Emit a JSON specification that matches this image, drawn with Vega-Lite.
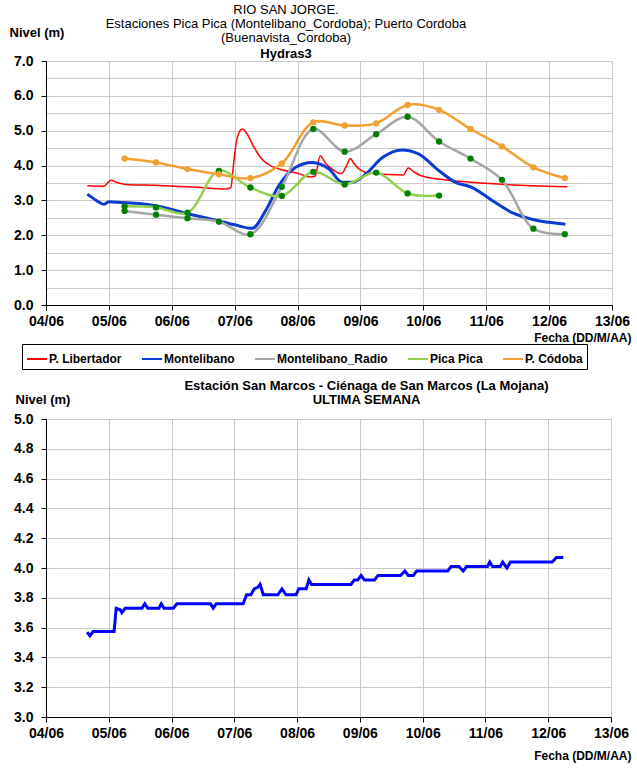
{
  "$schema": "https://vega.github.io/schema/vega-lite/v6.json",
  "background": "white",
  "padding": {"left": 8, "top": 3, "right": 4, "bottom": 2},
  "spacing": 35,
  "config": {
    "font": "Liberation Sans",
    "view": {"stroke": "#A0A0A0"},
    "axis": {
      "labelFont": "Liberation Sans", "labelFontWeight": "bold", "labelFontSize": 14, "labelColor": "black",
      "domainColor": "black", "tickColor": "black", "tickSize": 5, "gridColor": "#C8C8C8", "gridWidth": 1,
      "titleFont": "Liberation Sans", "titleFontWeight": "bold", "titleFontSize": 13, "titleColor": "black"
    },
    "title": {"font": "Liberation Sans", "fontSize": 13, "color": "black", "subtitleFont": "Liberation Sans", "subtitleFontSize": 13, "subtitleFontWeight": "bold", "subtitleColor": "black", "subtitlePadding": 0, "lineHeight": 14, "subtitleLineHeight": 14}
  },
  "datasets": {
    "top": [
      {"s": "P. Libertador", "t": "2023-06-04T15:46Z", "v": 3.42},
      {"s": "P. Libertador", "t": "2023-06-04T22:05Z", "v": 3.41},
      {"s": "P. Libertador", "t": "2023-06-04T23:31Z", "v": 3.50},
      {"s": "P. Libertador", "t": "2023-06-05T00:43Z", "v": 3.58},
      {"s": "P. Libertador", "t": "2023-06-05T02:53Z", "v": 3.52},
      {"s": "P. Libertador", "t": "2023-06-05T06:29Z", "v": 3.46},
      {"s": "P. Libertador", "t": "2023-06-05T19:12Z", "v": 3.43},
      {"s": "P. Libertador", "t": "2023-06-06T09:36Z", "v": 3.38},
      {"s": "P. Libertador", "t": "2023-06-06T20:38Z", "v": 3.33},
      {"s": "P. Libertador", "t": "2023-06-06T22:34Z", "v": 3.37},
      {"s": "P. Libertador", "t": "2023-06-06T23:31Z", "v": 4.0},
      {"s": "P. Libertador", "t": "2023-06-07T00:29Z", "v": 4.6},
      {"s": "P. Libertador", "t": "2023-06-07T01:41Z", "v": 4.95},
      {"s": "P. Libertador", "t": "2023-06-07T02:53Z", "v": 5.05},
      {"s": "P. Libertador", "t": "2023-06-07T04:48Z", "v": 4.90},
      {"s": "P. Libertador", "t": "2023-06-07T07:12Z", "v": 4.55},
      {"s": "P. Libertador", "t": "2023-06-07T10:48Z", "v": 4.15},
      {"s": "P. Libertador", "t": "2023-06-07T14:24Z", "v": 3.97},
      {"s": "P. Libertador", "t": "2023-06-07T18:00Z", "v": 3.88},
      {"s": "P. Libertador", "t": "2023-06-08T00:00Z", "v": 3.78},
      {"s": "P. Libertador", "t": "2023-06-08T04:48Z", "v": 3.67},
      {"s": "P. Libertador", "t": "2023-06-08T06:43Z", "v": 3.70},
      {"s": "P. Libertador", "t": "2023-06-08T08:38Z", "v": 4.28},
      {"s": "P. Libertador", "t": "2023-06-08T10:48Z", "v": 4.05},
      {"s": "P. Libertador", "t": "2023-06-08T13:12Z", "v": 3.90},
      {"s": "P. Libertador", "t": "2023-06-08T16:48Z", "v": 3.77},
      {"s": "P. Libertador", "t": "2023-06-08T18:43Z", "v": 4.00},
      {"s": "P. Libertador", "t": "2023-06-08T20:10Z", "v": 4.20},
      {"s": "P. Libertador", "t": "2023-06-08T21:36Z", "v": 4.05},
      {"s": "P. Libertador", "t": "2023-06-08T23:31Z", "v": 3.90},
      {"s": "P. Libertador", "t": "2023-06-09T04:34Z", "v": 3.77},
      {"s": "P. Libertador", "t": "2023-06-09T16:19Z", "v": 3.73},
      {"s": "P. Libertador", "t": "2023-06-09T18:14Z", "v": 3.93},
      {"s": "P. Libertador", "t": "2023-06-09T20:24Z", "v": 3.82},
      {"s": "P. Libertador", "t": "2023-06-09T23:31Z", "v": 3.70},
      {"s": "P. Libertador", "t": "2023-06-10T09:50Z", "v": 3.58},
      {"s": "P. Libertador", "t": "2023-06-10T23:46Z", "v": 3.49},
      {"s": "P. Libertador", "t": "2023-06-11T17:31Z", "v": 3.42},
      {"s": "P. Libertador", "t": "2023-06-12T06:58Z", "v": 3.39},
      {"s": "Montelibano", "t": "2023-06-04T15:46Z", "v": 3.18},
      {"s": "Montelibano", "t": "2023-06-04T19:12Z", "v": 3.00},
      {"s": "Montelibano", "t": "2023-06-04T22:05Z", "v": 2.89},
      {"s": "Montelibano", "t": "2023-06-05T00:00Z", "v": 2.96},
      {"s": "Montelibano", "t": "2023-06-05T04:48Z", "v": 2.94},
      {"s": "Montelibano", "t": "2023-06-05T11:31Z", "v": 2.91},
      {"s": "Montelibano", "t": "2023-06-05T17:46Z", "v": 2.85},
      {"s": "Montelibano", "t": "2023-06-06T06:29Z", "v": 2.61},
      {"s": "Montelibano", "t": "2023-06-06T18:00Z", "v": 2.41},
      {"s": "Montelibano", "t": "2023-06-07T00:00Z", "v": 2.30},
      {"s": "Montelibano", "t": "2023-06-07T06:43Z", "v": 2.20},
      {"s": "Montelibano", "t": "2023-06-07T11:46Z", "v": 2.70},
      {"s": "Montelibano", "t": "2023-06-07T16:48Z", "v": 3.42},
      {"s": "Montelibano", "t": "2023-06-07T23:17Z", "v": 3.95},
      {"s": "Montelibano", "t": "2023-06-08T05:31Z", "v": 4.09},
      {"s": "Montelibano", "t": "2023-06-08T12:00Z", "v": 3.90},
      {"s": "Montelibano", "t": "2023-06-08T17:02Z", "v": 3.52},
      {"s": "Montelibano", "t": "2023-06-08T20:53Z", "v": 3.52},
      {"s": "Montelibano", "t": "2023-06-09T01:55Z", "v": 3.75},
      {"s": "Montelibano", "t": "2023-06-09T08:24Z", "v": 4.23},
      {"s": "Montelibano", "t": "2023-06-09T15:50Z", "v": 4.45},
      {"s": "Montelibano", "t": "2023-06-09T22:19Z", "v": 4.33},
      {"s": "Montelibano", "t": "2023-06-10T06:00Z", "v": 3.85},
      {"s": "Montelibano", "t": "2023-06-10T12:14Z", "v": 3.52},
      {"s": "Montelibano", "t": "2023-06-10T18:43Z", "v": 3.37},
      {"s": "Montelibano", "t": "2023-06-11T02:24Z", "v": 2.99},
      {"s": "Montelibano", "t": "2023-06-11T09:50Z", "v": 2.65},
      {"s": "Montelibano", "t": "2023-06-11T17:31Z", "v": 2.46},
      {"s": "Montelibano", "t": "2023-06-12T06:14Z", "v": 2.32},
      {"s": "Montelibano_Radio", "t": "2023-06-05T06:00Z", "v": 2.70},
      {"s": "Montelibano_Radio", "t": "2023-06-05T18:00Z", "v": 2.59},
      {"s": "Montelibano_Radio", "t": "2023-06-06T06:00Z", "v": 2.49},
      {"s": "Montelibano_Radio", "t": "2023-06-06T18:00Z", "v": 2.39},
      {"s": "Montelibano_Radio", "t": "2023-06-07T06:00Z", "v": 2.03},
      {"s": "Montelibano_Radio", "t": "2023-06-07T18:00Z", "v": 3.39},
      {"s": "Montelibano_Radio", "t": "2023-06-08T06:00Z", "v": 5.05},
      {"s": "Montelibano_Radio", "t": "2023-06-08T18:00Z", "v": 4.40},
      {"s": "Montelibano_Radio", "t": "2023-06-09T06:00Z", "v": 4.90},
      {"s": "Montelibano_Radio", "t": "2023-06-09T18:00Z", "v": 5.40},
      {"s": "Montelibano_Radio", "t": "2023-06-10T06:00Z", "v": 4.69},
      {"s": "Montelibano_Radio", "t": "2023-06-10T18:00Z", "v": 4.20},
      {"s": "Montelibano_Radio", "t": "2023-06-11T06:00Z", "v": 3.59},
      {"s": "Montelibano_Radio", "t": "2023-06-11T18:00Z", "v": 2.19},
      {"s": "Montelibano_Radio", "t": "2023-06-12T06:00Z", "v": 2.03},
      {"s": "Pica Pica", "t": "2023-06-05T06:00Z", "v": 2.83},
      {"s": "Pica Pica", "t": "2023-06-05T18:00Z", "v": 2.80},
      {"s": "Pica Pica", "t": "2023-06-06T06:00Z", "v": 2.65},
      {"s": "Pica Pica", "t": "2023-06-06T18:00Z", "v": 3.85},
      {"s": "Pica Pica", "t": "2023-06-07T06:00Z", "v": 3.37},
      {"s": "Pica Pica", "t": "2023-06-07T18:00Z", "v": 3.13},
      {"s": "Pica Pica", "t": "2023-06-08T06:00Z", "v": 3.82},
      {"s": "Pica Pica", "t": "2023-06-08T18:00Z", "v": 3.46},
      {"s": "Pica Pica", "t": "2023-06-09T06:00Z", "v": 3.80},
      {"s": "Pica Pica", "t": "2023-06-09T18:00Z", "v": 3.20},
      {"s": "Pica Pica", "t": "2023-06-10T06:00Z", "v": 3.14},
      {"s": "P. Códoba", "t": "2023-06-05T06:00Z", "v": 4.20},
      {"s": "P. Códoba", "t": "2023-06-05T18:00Z", "v": 4.09},
      {"s": "P. Códoba", "t": "2023-06-06T06:00Z", "v": 3.90},
      {"s": "P. Códoba", "t": "2023-06-06T18:00Z", "v": 3.75},
      {"s": "P. Códoba", "t": "2023-06-07T06:00Z", "v": 3.64},
      {"s": "P. Códoba", "t": "2023-06-07T18:00Z", "v": 4.06},
      {"s": "P. Códoba", "t": "2023-06-08T06:00Z", "v": 5.24},
      {"s": "P. Códoba", "t": "2023-06-08T18:00Z", "v": 5.15},
      {"s": "P. Códoba", "t": "2023-06-09T06:00Z", "v": 5.21},
      {"s": "P. Códoba", "t": "2023-06-09T18:00Z", "v": 5.74},
      {"s": "P. Códoba", "t": "2023-06-10T06:00Z", "v": 5.60},
      {"s": "P. Códoba", "t": "2023-06-10T18:00Z", "v": 5.05},
      {"s": "P. Códoba", "t": "2023-06-11T06:00Z", "v": 4.55},
      {"s": "P. Códoba", "t": "2023-06-11T18:00Z", "v": 3.95},
      {"s": "P. Códoba", "t": "2023-06-12T06:00Z", "v": 3.64}
    ],
    "bot": [
      {"t": "2023-06-04T15:43Z", "v": 3.57},
      {"t": "2023-06-04T16:47Z", "v": 3.545},
      {"t": "2023-06-04T18:03Z", "v": 3.573},
      {"t": "2023-06-05T02:02Z", "v": 3.573},
      {"t": "2023-06-05T02:50Z", "v": 3.73},
      {"t": "2023-06-05T04:22Z", "v": 3.72},
      {"t": "2023-06-05T04:59Z", "v": 3.70},
      {"t": "2023-06-05T06:17Z", "v": 3.73},
      {"t": "2023-06-05T12:43Z", "v": 3.73},
      {"t": "2023-06-05T13:45Z", "v": 3.76},
      {"t": "2023-06-05T14:56Z", "v": 3.73},
      {"t": "2023-06-05T19:11Z", "v": 3.73},
      {"t": "2023-06-05T20:04Z", "v": 3.76},
      {"t": "2023-06-05T21:06Z", "v": 3.73},
      {"t": "2023-06-06T00:42Z", "v": 3.73},
      {"t": "2023-06-06T02:01Z", "v": 3.76},
      {"t": "2023-06-06T14:53Z", "v": 3.76},
      {"t": "2023-06-06T15:55Z", "v": 3.73},
      {"t": "2023-06-06T17:05Z", "v": 3.76},
      {"t": "2023-06-07T03:22Z", "v": 3.76},
      {"t": "2023-06-07T04:41Z", "v": 3.82},
      {"t": "2023-06-07T06:20Z", "v": 3.82},
      {"t": "2023-06-07T07:36Z", "v": 3.86},
      {"t": "2023-06-07T08:56Z", "v": 3.87},
      {"t": "2023-06-07T09:49Z", "v": 3.89},
      {"t": "2023-06-07T11:05Z", "v": 3.82},
      {"t": "2023-06-07T16:39Z", "v": 3.82},
      {"t": "2023-06-07T18:12Z", "v": 3.86},
      {"t": "2023-06-07T19:45Z", "v": 3.82},
      {"t": "2023-06-07T23:37Z", "v": 3.82},
      {"t": "2023-06-08T00:37Z", "v": 3.86},
      {"t": "2023-06-08T03:29Z", "v": 3.86},
      {"t": "2023-06-08T04:29Z", "v": 3.92},
      {"t": "2023-06-08T05:31Z", "v": 3.89},
      {"t": "2023-06-08T20:36Z", "v": 3.89},
      {"t": "2023-06-08T21:52Z", "v": 3.92},
      {"t": "2023-06-08T23:11Z", "v": 3.92},
      {"t": "2023-06-09T00:27Z", "v": 3.95},
      {"t": "2023-06-09T01:44Z", "v": 3.92},
      {"t": "2023-06-09T05:36Z", "v": 3.92},
      {"t": "2023-06-09T06:55Z", "v": 3.95},
      {"t": "2023-06-09T15:32Z", "v": 3.95},
      {"t": "2023-06-09T17:12Z", "v": 3.98},
      {"t": "2023-06-09T18:30Z", "v": 3.95},
      {"t": "2023-06-09T20:27Z", "v": 3.95},
      {"t": "2023-06-09T21:43Z", "v": 3.98},
      {"t": "2023-06-10T09:35Z", "v": 3.98},
      {"t": "2023-06-10T10:51Z", "v": 4.01},
      {"t": "2023-06-10T13:49Z", "v": 4.01},
      {"t": "2023-06-10T15:30Z", "v": 3.98},
      {"t": "2023-06-10T16:47Z", "v": 4.01},
      {"t": "2023-06-11T00:46Z", "v": 4.01},
      {"t": "2023-06-11T01:39Z", "v": 4.04},
      {"t": "2023-06-11T02:43Z", "v": 4.01},
      {"t": "2023-06-11T05:41Z", "v": 4.01},
      {"t": "2023-06-11T06:35Z", "v": 4.04},
      {"t": "2023-06-11T08:14Z", "v": 4.00},
      {"t": "2023-06-11T09:33Z", "v": 4.04},
      {"t": "2023-06-12T01:30Z", "v": 4.04},
      {"t": "2023-06-12T03:10Z", "v": 4.07},
      {"t": "2023-06-12T05:46Z", "v": 4.07}
    ]
  },
  "vconcat": [
    {
      "width": 566,
      "height": 244,
      "title": {
        "text": ["RIO SAN JORGE.", "Estaciones Pica Pica (Montelibano_Cordoba); Puerto Cordoba", "(Buenavista_Cordoba)"],
        "subtitle": "Hydras3",
        "fontWeight": "normal",
        "subtitleFontWeight": "bold",
        "anchor": "middle",
        "dx": -43,
        "offset": -35
      },
      "data": {"name": "top"},
      "encoding": {
        "x": {
          "field": "t", "type": "temporal",
          "scale": {"type": "utc", "domain": ["2023-06-04T00:00Z", "2023-06-13T00:00Z"], "nice": false},
          "axis": {"labelExpr": "utcFormat(datum.value, '%d/%m')", "tickCount": {"interval": "day", "step": 1}, "labelPadding": 4, "title": "Fecha (DD/M/AA)", "titleFontSize": 12, "titleAnchor": "end", "titleAlign": "right", "titleX": 585, "titleY": 36, "titleBaseline": "alphabetic", "labelFlush": false, "labelOverlap": false}
        },
        "y": {
          "field": "v", "type": "quantitative",
          "scale": {"domain": [0, 7], "nice": false, "zero": false},
          "axis": {"values": [0, 0.5, 1, 1.5, 2, 2.5, 3, 3.5, 4, 4.5, 5, 5.5, 6, 6.5, 7], "labelExpr": "datum.value % 1 == 0 ? format(datum.value, '.1f') : ''", "tickOpacity": {"condition": {"test": "datum.value % 1 != 0", "value": 0}, "value": 1}, "labelPadding": 8, "title": "Nivel (m)", "titleAngle": 0, "titleAlign": "left", "titleBaseline": "alphabetic", "titleX": -37, "titleY": -25}
        }
      },
      "layer": [
        {
          "transform": [{"filter": "datum.s == 'P. Libertador' || datum.s == 'Montelibano'"}],
          "mark": {"type": "line", "interpolate": "monotone"},
          "encoding": {
            "color": {"field": "s", "type": "nominal",
              "scale": {"domain": ["P. Libertador", "Montelibano", "Montelibano_Radio", "Pica Pica", "P. Códoba"], "range": ["#FF0000", "#0A3CD2", "#A6A6A6", "#92D050", "#F0A030"]},
              "legend": {"orient": "none", "legendX": -24, "legendY": 283, "direction": "horizontal", "columns": 5, "title": null, "strokeColor": "black", "padding": 4, "symbolType": "stroke", "symbolSize": 400, "symbolStrokeWidth": 2, "labelFont": "Liberation Sans", "labelFontWeight": "bold", "labelFontSize": 12, "labelColor": "black", "labelOffset": 1, "columnPadding": 16, "labelLimit": 250}
            },
            "strokeWidth": {"field": "s", "type": "nominal", "scale": {"domain": ["P. Libertador", "Montelibano"], "range": [1.5, 3]}, "legend": null}
          }
        },
        {
          "transform": [{"filter": "datum.s != 'P. Libertador' && datum.s != 'Montelibano'"}],
          "mark": {"type": "line", "interpolate": "catmull-rom", "strokeWidth": 2.5},
          "encoding": {
            "color": {"field": "s", "type": "nominal"}
          }
        },
        {
          "transform": [{"filter": "datum.s != 'P. Libertador' && datum.s != 'Montelibano'"}],
          "mark": {"type": "circle", "size": 40, "opacity": 1},
          "encoding": {
            "color": {"condition": {"test": "datum.s == 'P. Códoba'", "value": "#F0A030"}, "value": "#008000"}
          }
        }
      ]
    },
    {
      "width": 565,
      "height": 298,
      "title": {
        "text": "Estación San Marcos - Ciénaga de San Marcos (La Mojana)",
        "subtitle": "ULTIMA SEMANA",
        "fontWeight": "bold",
        "subtitleFontWeight": "bold",
        "subtitlePadding": 1,
        "anchor": "middle",
        "dx": 38,
        "offset": -14
      },
      "data": {"name": "bot"},
      "mark": {"type": "line", "color": "#0000FF", "strokeWidth": 3},
      "encoding": {
        "x": {
          "field": "t", "type": "temporal",
          "scale": {"type": "utc", "domain": ["2023-06-04T00:00Z", "2023-06-13T00:00Z"], "nice": false},
          "axis": {"labelExpr": "utcFormat(datum.value, '%d/%m')", "tickCount": {"interval": "day", "step": 1}, "labelPadding": 4, "title": "Fecha (DD/M/AA)", "titleFontSize": 12, "titleAnchor": "end", "titleAlign": "right", "titleX": 585, "titleY": 42, "titleBaseline": "alphabetic", "labelFlush": false, "labelOverlap": false}
        },
        "y": {
          "field": "v", "type": "quantitative",
          "scale": {"domain": [3, 5], "nice": false, "zero": false},
          "axis": {"values": [3, 3.2, 3.4, 3.6, 3.8, 4, 4.2, 4.4, 4.6, 4.8, 5], "format": ".1f", "labelPadding": 8, "title": "Nivel (m)", "titleAngle": 0, "titleAlign": "left", "titleBaseline": "alphabetic", "titleX": -31, "titleY": -16}
        }
      }
    }
  ]
}
